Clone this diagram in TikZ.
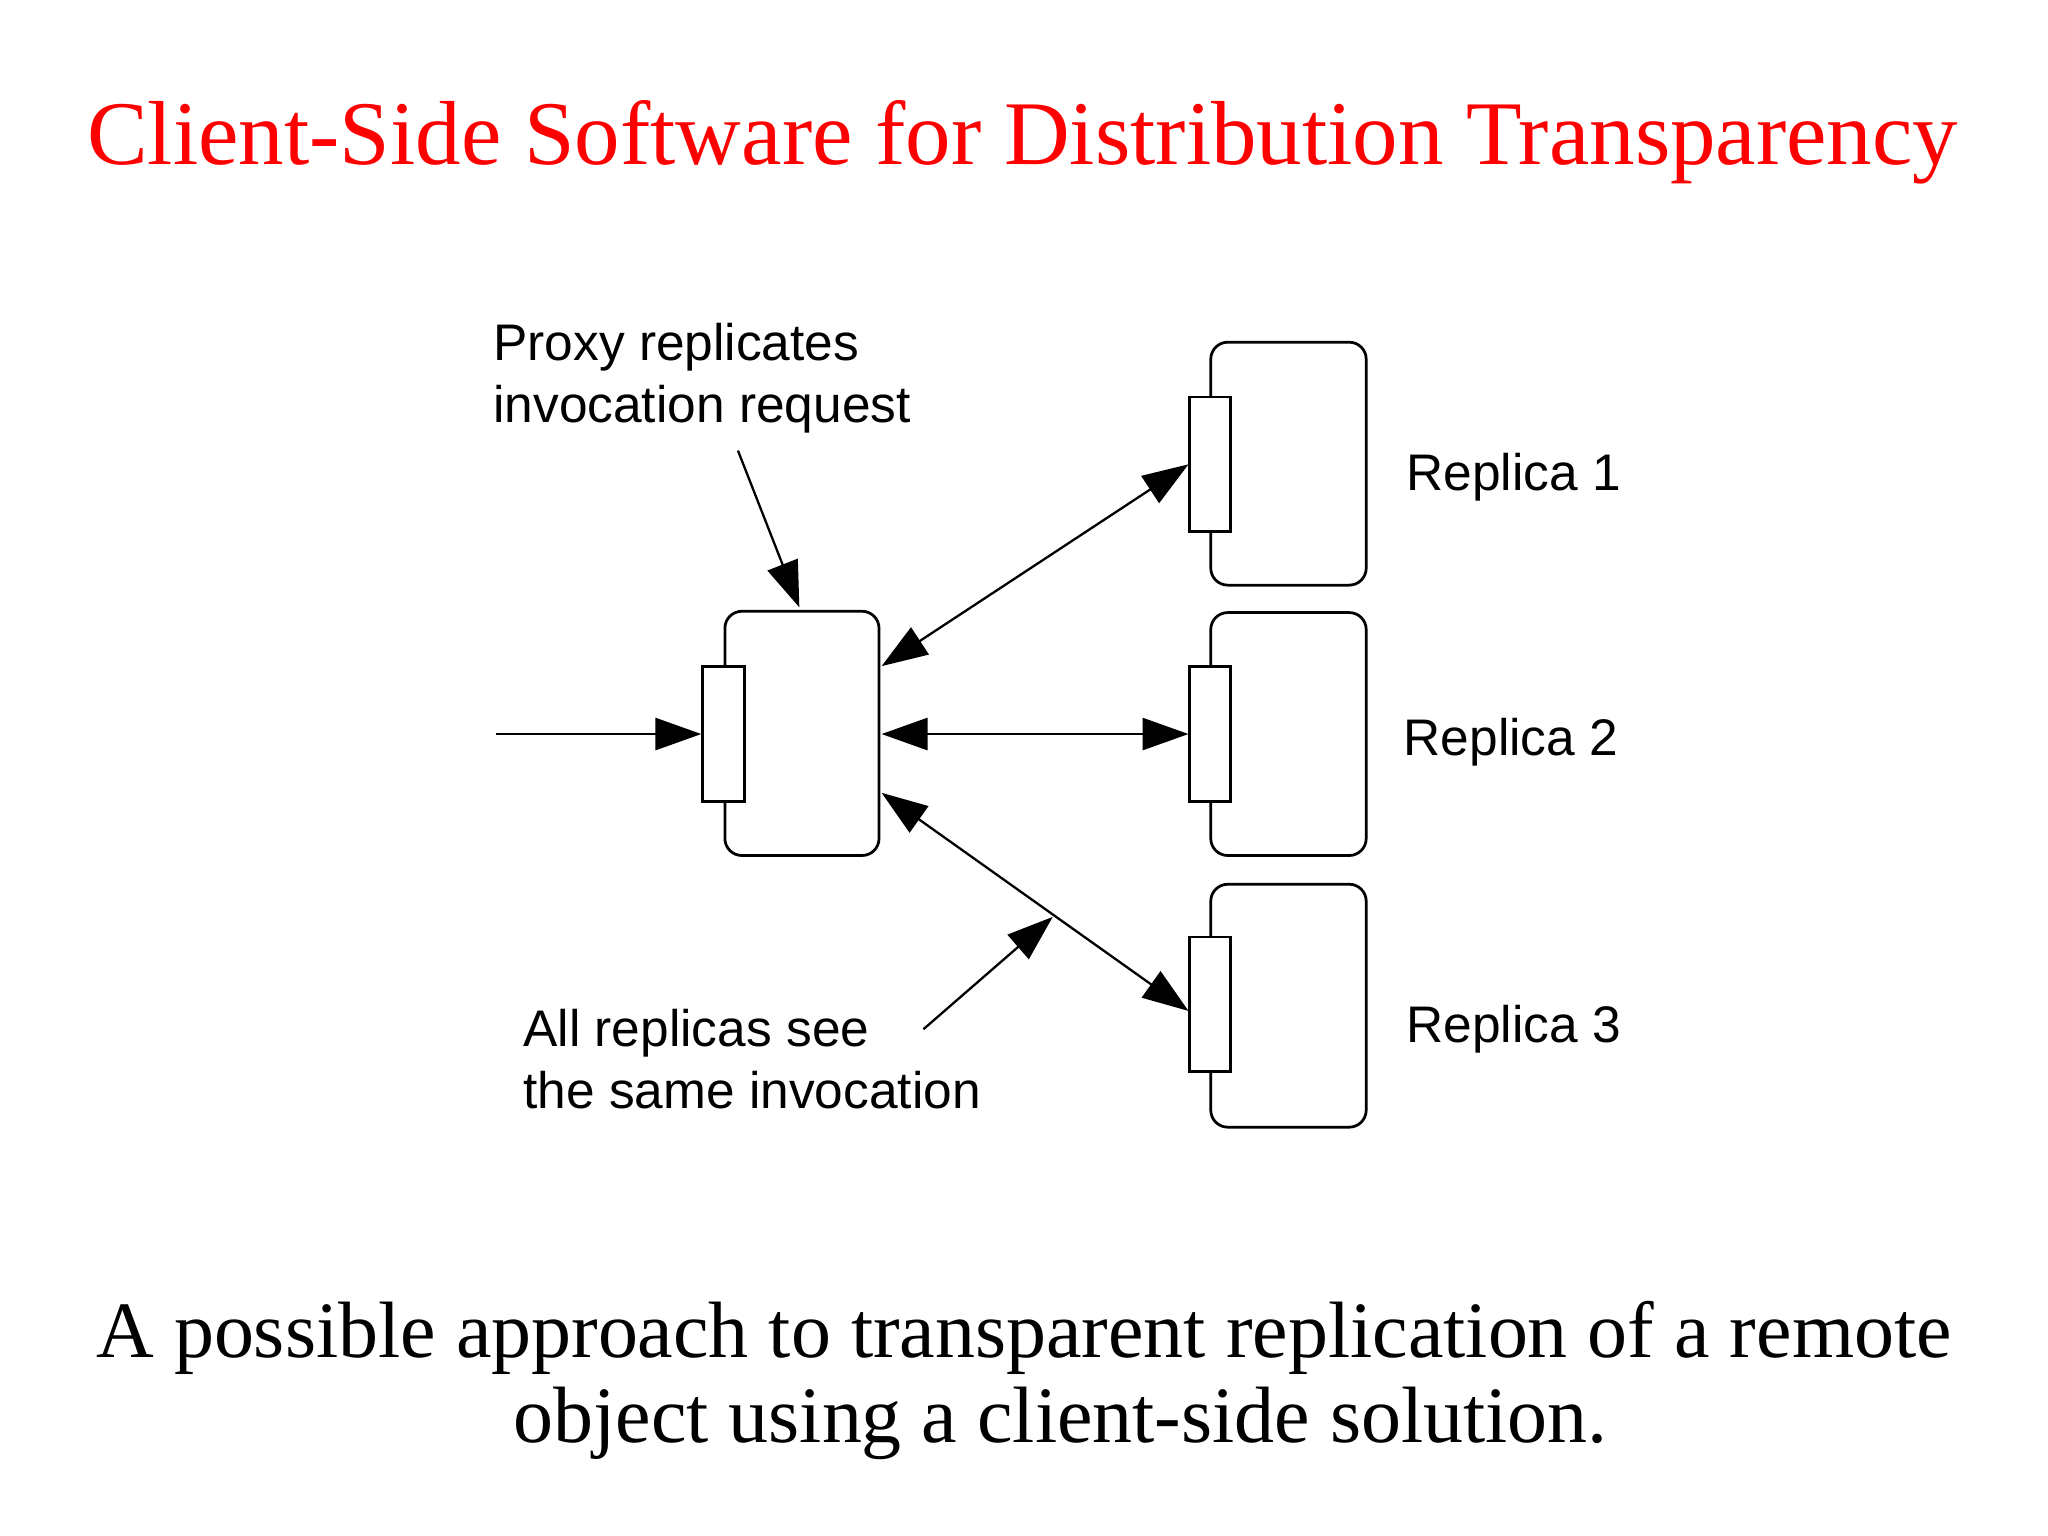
\documentclass[tikz,border=0pt]{standalone}
\usepackage{fontspec}
\setmainfont{Liberation Serif}
\newfontfamily\sansf{Liberation Sans}
\usetikzlibrary{arrows.meta}
\begin{document}
\begin{tikzpicture}[x=0.01cm,y=-0.01cm,
 obj/.style={draw,line width=0.6pt,rounded corners=0.13cm,inner sep=0},
 port/.style={draw,line width=0.6pt,fill=white,inner sep=0},
 tip/.style={-{Triangle[length=10pt,width=7pt]},line width=0.5pt},
 both/.style={{Triangle[length=10pt,width=7pt]}-{Triangle[length=10pt,width=7pt]},line width=0.5pt},
 lbl/.style={font=\sansf\fontsize{11.2}{13.5}\selectfont,align=left,inner sep=0},
 capt/.style={font=\fontsize{17.4}{19}\selectfont,inner sep=0}]
\useasboundingbox (0,0) rectangle (1568,1176);
\node[font=\fontsize{19.8}{24}\selectfont,text=red] (title) at (783,109) {Client-Side Software for Distribution Transparency};
\node[capt] (cap1) at (784,1024) {A possible approach to transparent replication of a remote};
\node[capt] (cap2) at (812,1090) {object using a client-side solution.};
% proxy
\draw[obj] (555,468) rectangle (673,655);
\node[port,minimum width=0.32cm,minimum height=1.03cm] (pp) at (554,562) {};
\coordinate (pin) at (380,562);
\coordinate (pr1) at (675,510);
\coordinate (pr2) at (675,562);
\coordinate (pr3) at (675,607);
% replicas
\foreach \i/\y in {1/262,2/469,3/677}{
 \draw[obj] (927,\y) rectangle (1046,\y+186);
}
\node[port,minimum width=0.31cm,minimum height=1.03cm] (r1) at (926.5,355.5) {};
\node[port,minimum width=0.31cm,minimum height=1.03cm] (r2) at (926.5,562) {};
\node[port,minimum width=0.31cm,minimum height=1.03cm] (r3) at (926.5,769) {};
\node[lbl,anchor=west] (l1) at (1076,365) {Replica 1};
\node[lbl,anchor=west] (l2) at (1074,568) {Replica 2};
\node[lbl,anchor=west] (l3) at (1076,788) {Replica 3};
\draw[tip] (pin) -- (pp.west);
\draw[both] (pr1) -- (r1.west);
\draw[both] (pr2) -- (r2.west);
\draw[both] (pr3) -- ([yshift=-0.05cm]r3.west);
\node[lbl,anchor=north west] (t1) at (377,247) {Proxy replicates\\invocation request};
\node[lbl,anchor=north west] (t2) at (400,772) {All replicas see\\the same invocation};
\coordinate (a1) at (565,345); \coordinate (a1e) at (612,465);
\coordinate (a2) at (707,788); \coordinate (a2e) at (806,702);
\draw[tip] (a1) -- (a1e);
\draw[tip] (a2) -- (a2e);
\end{tikzpicture}
\end{document}
